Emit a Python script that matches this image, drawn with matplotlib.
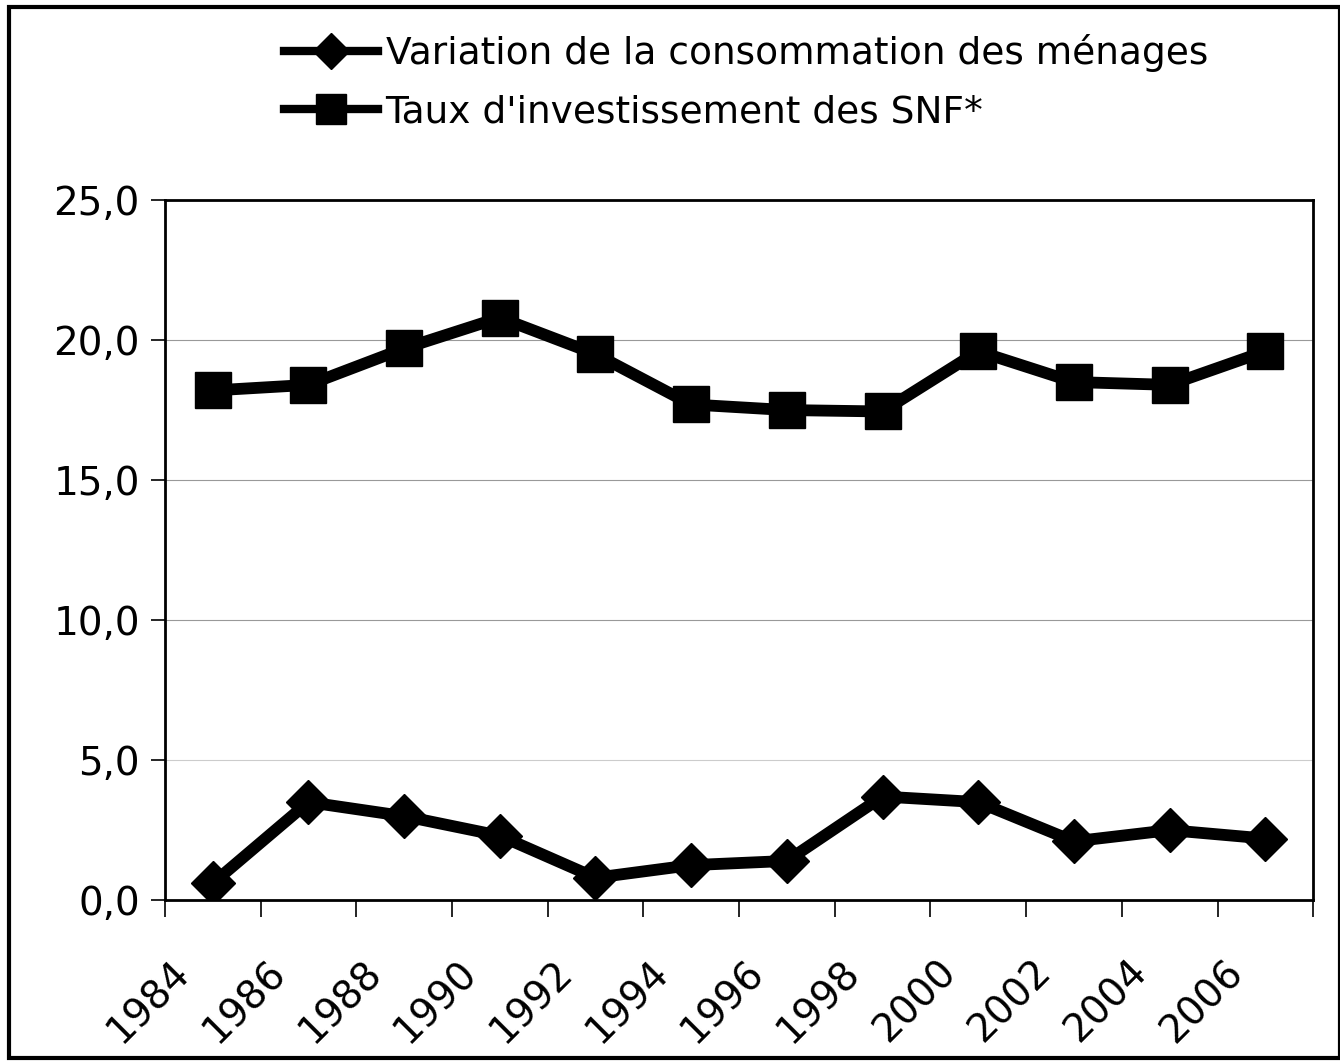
import numpy as np
import matplotlib.pyplot as plt
from matplotlib.patches import Rectangle
from matplotlib.ticker import FuncFormatter, FixedLocator
from matplotlib.transforms import ScaledTranslation

years = ['1984', '1986', '1988', '1990', '1992', '1994',
         '1996', '1998', '2000', '2002', '2004', '2006']
conso = [0.6, 3.5, 3.0, 2.3, 0.8, 1.25, 1.4, 3.7, 3.5, 2.1, 2.5, 2.2]
invest = [18.2, 18.4, 19.7, 20.8, 19.5, 17.7, 17.5, 17.45, 19.6, 18.5, 18.4, 19.6]

plt.rcParams['font.family'] = ['DejaVu Sans']

fig = plt.figure(figsize=(13.4, 10.64), dpi=100)
ax = fig.add_axes([0.123, 0.154, 0.857, 0.658])

x = np.arange(len(years))
l1, = ax.plot(x, conso, color='black', lw=8.5, marker='D', ms=22,
              label='Variation de la consommation des ménages')
l2, = ax.plot(x, invest, color='black', lw=8.5, marker='s', ms=26,
              label="Taux d'investissement des SNF*")

ax.set_xlim(-0.5, len(years) - 0.5)
ax.set_ylim(0, 25)
ax.set_yticks([0, 5, 10, 15, 20, 25])
ax.yaxis.set_major_formatter(FuncFormatter(lambda v, p: f'{v:.1f}'.replace('.', ',')))
ax.tick_params(axis='y', labelsize=28, length=10, width=1.2, direction='out', pad=8)
for yv, c in [(5, '#cccccc'), (10, '#999999'), (15, '#999999'), (20, '#999999')]:
    ax.axhline(yv, color=c, lw=0.8, zorder=0)

ax.set_xticks(x)
ax.set_xticklabels(years, rotation=45, ha='right', rotation_mode='anchor', fontsize=28)
ax.tick_params(axis='x', which='major', length=0, pad=38)
shift = ScaledTranslation(-42 / 100, 0, fig.dpi_scale_trans)
for lab in ax.get_xticklabels():
    lab.set_transform(lab.get_transform() + shift)
ax.xaxis.set_minor_locator(FixedLocator(np.arange(-0.5, len(years), 1.0)))
ax.tick_params(axis='x', which='minor', length=12, width=1.2, direction='out')

for sp in ax.spines.values():
    sp.set_linewidth(2)

# legend handles drawn with a thinner line, like the original
leg = fig.legend(handles=[l1, l2], loc='upper left', bbox_to_anchor=(0.187, 1.0),
                 frameon=False, fontsize=27, handlelength=2.5, handletextpad=0.2,
                 labelspacing=0.6, markerscale=0.85)
for h in leg.legend_handles:
    h.set_linewidth(6)

fig.add_artist(Rectangle((0.007, 0.006), 0.993, 0.987, transform=fig.transFigure,
                         fill=False, ec='black', lw=3))

fig.savefig('out.png', dpi=100)
